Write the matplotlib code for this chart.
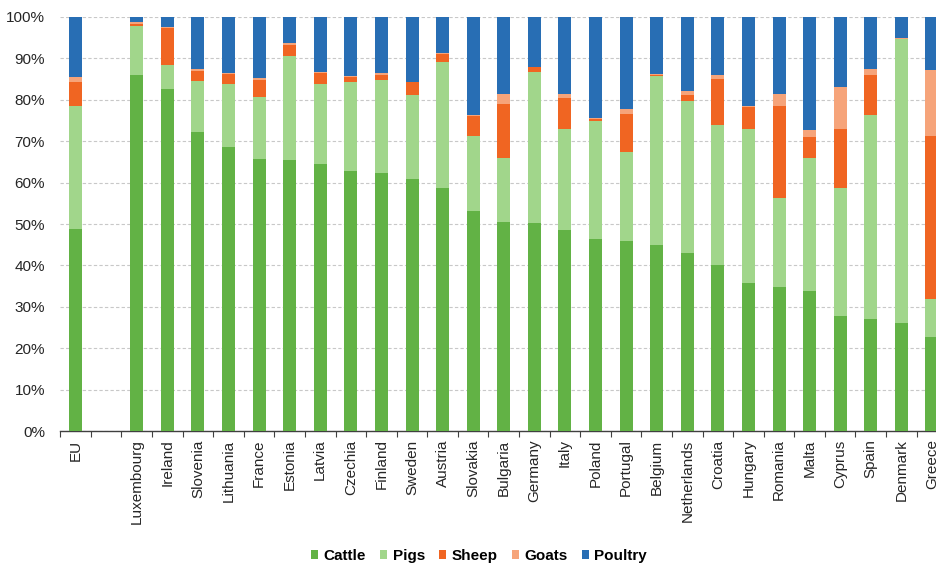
import numpy as np
import matplotlib
matplotlib.use("Agg")
import matplotlib.pyplot as plt
from matplotlib.patches import Patch
from matplotlib.ticker import FixedLocator, PercentFormatter

plt.rcParams['font.family'] = ['Liberation Sans', 'DejaVu Sans']

# share of livestock units by species, % (blank slot separates EU from the countries)
countries = ['EU', '', 'Luxembourg', 'Ireland', 'Slovenia', 'Lithuania', 'France',
             'Estonia', 'Latvia', 'Czechia', 'Finland', 'Sweden', 'Austria',
             'Slovakia', 'Bulgaria', 'Germany', 'Italy', 'Poland', 'Portugal',
             'Belgium', 'Netherlands', 'Croatia', 'Hungary', 'Romania', 'Malta',
             'Cyprus', 'Spain', 'Denmark', 'Greece']

cattle = [48.8, 0, 86.1, 82.6, 72.3, 68.6, 65.8, 65.5, 64.5, 62.9, 62.4, 60.8, 58.7,
          53.1, 50.5, 50.3, 48.6, 46.3, 46.0, 44.9, 42.9, 40.1, 35.7, 34.8, 33.8,
          27.7, 27.0, 26.1, 22.7]
pigs = [29.8, 0, 11.8, 5.9, 12.2, 15.2, 14.9, 25.1, 19.2, 21.5, 22.4, 20.4, 30.5,
        18.2, 15.5, 36.3, 24.4, 28.6, 21.4, 40.8, 36.9, 33.9, 37.3, 21.5, 32.2,
        31.0, 49.3, 68.5, 9.2]
sheep = [5.6, 0, 0.5, 8.9, 2.4, 2.5, 4.0, 2.6, 2.8, 1.2, 1.3, 3.0, 1.9,
         4.8, 12.9, 1.2, 7.5, 0.4, 9.2, 0.4, 1.4, 10.9, 5.2, 22.3, 4.9,
         14.3, 9.6, 0.1, 39.4]
goats = [1.2, 0, 0.4, 0.1, 0.6, 0.2, 0.6, 0.4, 0.3, 0.2, 0.3, 0.2, 0.3,
         0.3, 2.5, 0.1, 0.9, 0.2, 1.2, 0.2, 1.0, 1.0, 0.3, 2.9, 1.9,
         10.0, 1.5, 0.1, 16.0]
poultry = [14.6, 0, 1.2, 2.5, 12.5, 13.5, 14.7, 6.4, 13.2, 14.2, 13.6, 15.6, 8.6,
           23.6, 18.6, 12.2, 18.6, 24.5, 22.2, 13.7, 17.8, 14.1, 21.5, 18.5, 27.2,
           17.0, 12.6, 5.2, 12.7]

species = ['Cattle', 'Pigs', 'Sheep', 'Goats', 'Poultry']
series = [cattle, pigs, sheep, goats, poultry]
colors = ['#62b245', '#a1d68b', '#f06522', '#f6a47a', '#286eb4']

fig = plt.figure(figsize=(9.36, 5.65), dpi=100)
# axes run past the right edge so the last bar is clipped
ax = fig.add_axes([0.0644, 0.237, 0.9476, 0.733])

x = np.arange(len(countries))
bottom = np.zeros(len(countries))
for name, vals, col in zip(species, series, colors):
    vals = np.array(vals, dtype=float)
    ax.bar(x, vals, width=0.425, bottom=bottom, color=col, label=name,
           zorder=3, linewidth=0)
    bottom += vals

ax.set_xlim(-0.5, len(countries) - 0.5)
ax.set_ylim(0, 100)
ax.yaxis.set_major_locator(FixedLocator(np.arange(0, 101, 10)))
ax.yaxis.set_major_formatter(PercentFormatter(decimals=0))
ax.grid(axis='y', color='#c8c8c8', linestyle=(0, (3, 2)), linewidth=0.8, zorder=0)

ax.set_xticks(x)
ax.set_xticklabels(countries, rotation=90, fontsize=11, color='#262626')
ax.set_xticks(np.arange(len(countries) + 1) - 0.5, minor=True)
ax.tick_params(axis='x', which='major', length=0, pad=6)
ax.tick_params(axis='x', which='minor', length=4, width=0.8, color='#404040')
ax.tick_params(axis='y', length=0, labelsize=11, labelcolor='#262626', pad=11)

for side in ['top', 'right', 'left']:
    ax.spines[side].set_visible(False)
ax.spines['bottom'].set_color('#404040')
ax.spines['bottom'].set_linewidth(1)

handles = [Patch(facecolor=c, edgecolor='none') for c in colors]
fig.legend(handles, species, loc='center', bbox_to_anchor=(0.512, 0.016), ncol=5,
           frameon=False, handlelength=0.45, handleheight=0.45, handletextpad=0.35,
           columnspacing=0.95, prop={'weight': 'bold', 'size': 11})

fig.savefig('out.png', dpi=100)
